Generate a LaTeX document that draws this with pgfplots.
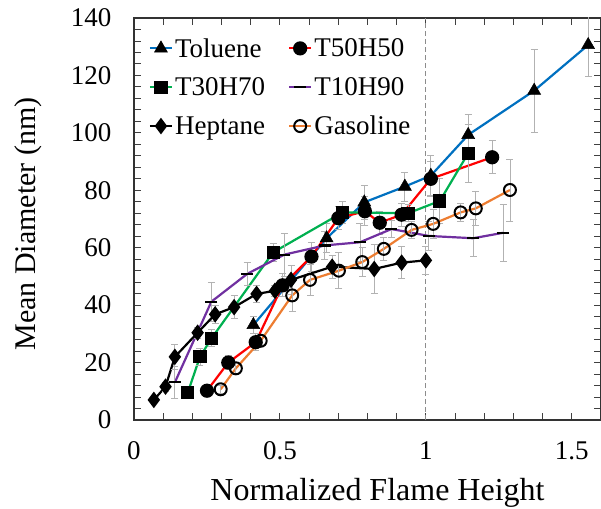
\documentclass[border=0pt]{standalone}
\usepackage{fontspec}
\setmainfont{Liberation Serif}
\usepackage{pgfplots}
\usepackage{pgfplotstable}
\pgfplotsset{compat=1.18}
\definecolor{cTol}{RGB}{0,112,192}
\definecolor{cTfif}{RGB}{255,0,0}
\definecolor{cTthi}{RGB}{0,176,80}
\definecolor{cTten}{RGB}{112,48,160}
\definecolor{cGas}{RGB}{237,125,49}

\pgfplotstableread{
x y e
0.409 33.1 3
0.660 63.3 5
0.789 75.8 6
0.928 81.3 5
1.017 85.1 7
1.145 99.3 7
1.371 114.7 14.4
1.556 130.6 11
}\toluene
\pgfplotstableread{
x y e
0.250 10.2 2
0.323 20.0 2.5
0.417 27.1 3
0.509 46.9 4
0.608 56.9 5
0.700 70.3 4
0.791 72.7 5
0.842 68.7 4
0.917 71.5 4
1.017 84.0 6
1.227 91.5 5.7
}\tfifty
\pgfplotstableread{
x y e
0.184 9.5 2
0.226 22.0 3
0.266 28.5 3
0.477 58.4 3
0.715 72.3 4
0.939 72.0 3
1.048 76.3 8
1.145 92.9 10
}\tthirty
\pgfplotstableread{
x y e
0.140 13.1 5.6
0.265 41.2 6.8
0.388 50.9 4
0.515 57.6 7.5
0.654 60.8 5
0.774 61.9 6.7
0.882 66.5 3
1.010 64.1 5
1.162 63.3 6.4
1.265 65.2 10
}\tten
\pgfplotstableread{
x y e
0.068 7.0 1
0.108 11.6 1.5
0.140 22.0 4.5
0.218 30.4 2
0.278 36.8 3
0.343 39.3 4
0.420 43.9 3
0.483 45.0 2
0.538 48.8 5
0.679 53.4 4
0.823 52.6 8.4
0.917 54.8 5.5
1.000 55.6 5
}\heptane
\pgfplotstableread{
x y e
0.297 10.7 1.5
0.349 18.0 2
0.434 27.6 2
0.542 43.4 5.5
0.603 48.8 5.5
0.702 52.0 6.3
0.782 55.0 5
0.856 59.6 4
0.951 66.2 3
1.025 68.3 5
1.119 72.3 3
1.171 73.7 6
1.288 80.1 10.8
}\gasoline

\begin{document}
\begin{tikzpicture}
\begin{axis}[
  scale only axis,
  width=467pt, height=402pt,
  xmin=0, xmax=1.6, ymin=0, ymax=140,
  xtick={0,0.5,1,1.5}, ytick={0,20,...,140},
  minor x tick num=4, minor y tick num=4,
  tick align=inside,
  major tick length=7pt, minor tick length=7pt,
  tick style={black!75, line width=0.9pt},
  axis line style={black!80, line width=1.3pt},
  /pgf/number format/assume math mode=true,
  tick label style={font=\fontsize{27}{30}\selectfont},
  yticklabel style={xshift=-19pt},
  xticklabel style={yshift=-18pt},
  xlabel={Normalized Flame Height},
  ylabel={Mean Diameter (nm)},
  every axis x label/.style={at={(axis description cs:0.5214,-0.199)}, anchor=base,
     font=\fontsize{32}{36}\selectfont},
  every axis y label/.style={at={(axis description cs:-0.256,0.4876)}, rotate=90, anchor=north,
     inner sep=0pt, font=\fontsize{30}{34}\selectfont},
  legend columns=2,
  legend cell align=left,
  legend style={draw=none, fill=none, at={(0.025,0.960)}, anchor=north west,
    font=\fontsize{27}{30}\selectfont, row sep=15pt,
    /tikz/every even column/.append style={column sep=21pt}},
  legend image code/.code={\draw[#1, mark repeat=2, mark phase=2] plot coordinates {(0pt,0pt) (11pt,0pt) (22pt,0pt)};},
  error bars/y dir=both, error bars/y explicit,
  error bars/error bar style={black!30, line width=0.8pt},
  error bars/error mark options={rotate=90, mark size=3.5pt, black!30, line width=0.8pt},
]
\coordinate (sw) at (rel axis cs:0,0);
\draw[black!45, line width=1pt, dash pattern=on 5pt off 3pt] (axis cs:1,0) -- (axis cs:1,140);

\addplot[color=cTol, line width=2.2pt, mark=triangle*, mark size=7.5pt, mark options={fill=black, draw=black, line width=0.5pt}]
  table[x=x, y=y, y error=e] {\toluene};
\addlegendentry{Toluene}
\addplot[color=cTfif, line width=2.2pt, mark=*, mark size=6pt, mark options={fill=black, draw=black}]
  table[x=x, y=y, y error=e] {\tfifty};
\addlegendentry{T50H50}
\addplot[color=cTthi, line width=2.2pt, mark=square*, mark size=5.5pt, mark options={fill=black, draw=black}]
  table[x=x, y=y, y error=e] {\tthirty};
\addlegendentry{T30H70}
\addplot[color=cTten, line width=2.2pt, mark=-, mark size=6pt, mark options={draw=black, line width=2.2pt}]
  table[x=x, y=y, y error=e] {\tten};
\addlegendentry{T10H90}
\addplot[color=black, line width=2.2pt, mark=diamond*, mark size=6.5pt, mark options={fill=black, draw=black}]
  table[x=x, y=y, y error=e] {\heptane};
\addlegendentry{Heptane}
\addplot[color=cGas, line width=2.2pt, mark=o, mark size=6pt, mark options={fill=white, draw=black, line width=2pt}]
  table[x=x, y=y, y error=e] {\gasoline};
\addlegendentry{Gasoline}
\end{axis}
\pgfresetboundingbox
\path[use as bounding box] (sw) ++(-134pt,-88pt) rectangle ++(601pt,508pt);
\end{tikzpicture}
\end{document}
